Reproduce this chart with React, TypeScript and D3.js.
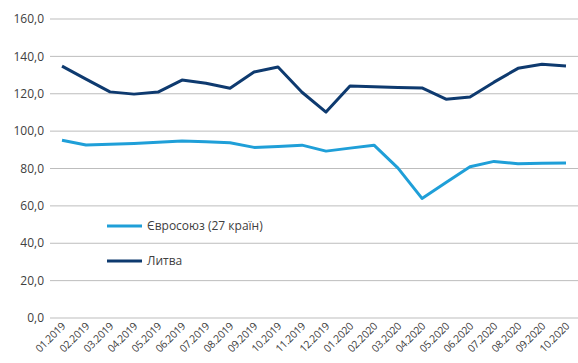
import { useRef, useEffect } from 'react';
import * as d3 from 'd3';

const months = [
  '01.2019', '02.2019', '03.2019', '04.2019', '05.2019', '06.2019', '07.2019', '08.2019',
  '09.2019', '10.2019', '11.2019', '12.2019', '01.2020', '02.2020', '03.2020', '04.2020',
  '05.2020', '06.2020', '07.2020', '08.2020', '09.2020', '10.2020',
];

const euValues = [
  95.1, 92.6, 93.0, 93.4, 94.0, 94.7, 94.3, 93.8, 91.3, 91.8, 92.5, 89.3,
  90.9, 92.5, 80.2, 64.0, 72.5, 80.9, 83.8, 82.6, 82.8, 83.0,
];

const ltValues = [
  134.8, 127.8, 121.0, 119.8, 120.9, 127.3, 125.6, 122.9, 131.6, 134.3, 120.8, 110.2,
  124.2, 123.8, 123.4, 123.1, 117.1, 118.3, 126.2, 133.6, 135.8, 134.9,
];

const yTicks = [0, 20, 40, 60, 80, 100, 120, 140, 160];

const seriesNames = ['Євросоюз (27 країн)', 'Литва'];
const seriesColors = ['#1f9fd8', '#0e3a6f'];

const W = 578;
const H = 363;

export default function App() {
  const svgRef = useRef<SVGSVGElement>(null);

  useEffect(() => {
    const svg = d3.select(svgRef.current);
    svg.selectAll('*').remove();

    const left = 50;
    const right = 578;
    const top = 19;
    const bottom = 318;
    const font = "'Open Sans', sans-serif";

    const x = d3.scaleBand<string>().domain(months).range([left, right]);
    const y = d3.scaleLinear().domain([0, 160]).range([bottom, top]);

    // Gridlines + y labels
    for (const t of yTicks) {
      svg.append('line')
        .attr('x1', left)
        .attr('x2', right)
        .attr('y1', y(t))
        .attr('y2', y(t))
        .attr('stroke', '#bdbdbd')
        .attr('stroke-width', 1);

      svg.append('text')
        .attr('x', 44)
        .attr('y', y(t))
        .attr('dy', '0.35em')
        .attr('text-anchor', 'end')
        .attr('fill', '#404040')
        .attr('font-size', '12px')
        .attr('font-family', font)
        .text(t.toFixed(1).replace('.', ','));
    }

    // X labels, rotated
    for (const m of months) {
      const cx = (x(m) ?? 0) + x.bandwidth() / 2;
      svg.append('text')
        .attr('transform', `translate(${cx + 4},${bottom + 9}) rotate(-45)`)
        .attr('text-anchor', 'end')
        .attr('fill', '#404040')
        .attr('font-size', '10.5px')
        .attr('font-family', font)
        .attr('letter-spacing', '-0.3px')
        .text(m);
    }

    const line = d3.line<number>()
      .x((_, i) => (x(months[i]) ?? 0) + x.bandwidth() / 2)
      .y((d) => y(d));

    [euValues, ltValues].forEach((vals, i) => {
      svg.append('path')
        .datum(vals)
        .attr('d', line)
        .attr('fill', 'none')
        .attr('stroke', seriesColors[i])
        .attr('stroke-width', 3)
        .attr('stroke-linejoin', 'round');
    });

    // Legend
    const legendY = [226, 261];
    seriesNames.forEach((name, i) => {
      svg.append('line')
        .attr('x1', 107)
        .attr('x2', 142)
        .attr('y1', legendY[i])
        .attr('y2', legendY[i])
        .attr('stroke', seriesColors[i])
        .attr('stroke-width', 3);
      svg.append('text')
        .attr('x', 147)
        .attr('y', legendY[i])
        .attr('dy', '0.35em')
        .attr('fill', '#404040')
        .attr('font-size', '12px')
        .attr('font-family', font)
        .text(name);
    });
  }, []);

  return (
    <svg
      ref={svgRef}
      width={W}
      height={H}
      viewBox={`0 0 ${W} ${H}`}
      style={{ position: 'absolute', left: 0, top: 0, display: 'block', background: '#fff' }}
    />
  );
}
